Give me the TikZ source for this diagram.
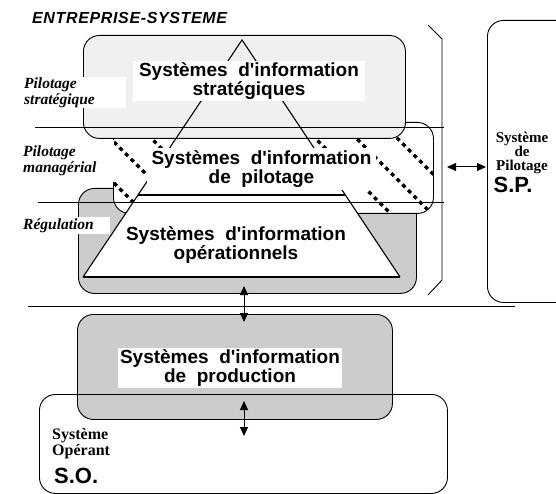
\documentclass[tikz,border=0pt]{standalone}
\usepackage{fontspec}
\setmainfont{Liberation Serif}
\setsansfont{Liberation Sans}
\usetikzlibrary{arrows.meta,calc}
\tikzset{box/.style={draw, rounded corners=16pt, line width=0.9pt, inner sep=0pt, anchor=north west}}
\newcommand\apos{\textquotesingle}

\begin{document}
\begin{tikzpicture}[x=1pt,y=-1pt,
    sitext/.style={font=\sffamily\bfseries\fontsize{19}{18.5}\selectfont, align=center, inner sep=0pt},
    leftlab/.style={font=\rmfamily\bfseries\itshape\fontsize{15.5}{16}\selectfont, align=left, fill=white, inner sep=0pt, inner xsep=4pt, anchor=north west},
    syslab/.style={font=\rmfamily\bfseries\fontsize{16}{16}\selectfont, anchor=base, inner sep=0pt},
    bigsys/.style={font=\sffamily\bfseries\fontsize{22}{22}\selectfont, anchor=base, inner sep=0pt},
    hatch/.style={line width=3.5pt, dash pattern=on 4pt off 4pt},
    levelline/.style={line width=0.9pt},
    pyr/.style={line width=1.1pt},
    dblarrow/.style={{Triangle[length=9pt,width=8pt]}-{Triangle[length=9pt,width=8pt]}, line width=1pt}]
    \clip (0,0) rectangle (556,494);
    \fill[white] (0,0) rectangle (556,494);

    \node[anchor=base west, inner sep=0pt, font=\sffamily\bfseries\itshape\fontsize{16}{18}\selectfont\addfontfeature{LetterSpace=4}] (title) at (32,24) {ENTREPRISE-SYSTEME};

    % systeme de pilotage
    \node[box, minimum width=110pt, minimum height=282pt] (sp) at (487,20) {};
    \node[syslab, font=\rmfamily\bfseries\fontsize{15}{15}\selectfont] (sp1) at (522,143) {Système};
    \node[syslab, font=\rmfamily\bfseries\fontsize{15}{15}\selectfont] (sp2) at (522,157) {de};
    \node[syslab, font=\rmfamily\bfseries\fontsize{15}{15}\selectfont] (sp3) at (522,171) {Pilotage};
    \node[bigsys] (sp4) at (513,193) {S.P.};
    \draw[line width=0.9pt] (428,25) -- (442,39) -- (442,280) -- (428,295);
    \coordinate (brk) at (447,167);
    \coordinate (spin) at (486,167);
    \draw[dblarrow] (brk) -- (spin);

    % les trois niveaux
    \node[box, fill=gray!40, minimum width=338pt, minimum height=105pt] (regul) at (78,188) {};
    \node[box, fill=white, minimum width=320pt, minimum height=91pt] (pilot) at (113,122) {};
    \begin{scope}
        \clip[rounded corners=16pt] (113,122) rectangle (433,213);
        \foreach \c in {69,28,...,-259}
            \draw[hatch] (80,80) ++(0,\c) -- ++(400,400);
    \end{scope}
    \coordinate (apex) at (242,40);
    \coordinate (bl) at (83,277);
    \coordinate (br) at (400,277);
    \fill[white] (apex) -- (bl) -- (br) -- cycle;
    \node[box, fill=gray!12, minimum width=322pt, minimum height=103pt] (strat) at (83,35) {};
    \draw[pyr] (bl) -- (apex) -- (br);
    \draw[line width=2pt] (bl) -- (br);
    \draw[pyr] ($(apex)!0.654!(bl)$) -- ($(apex)!0.654!(br)$);

    \node[sitext, fill=white, minimum width=232pt, minimum height=40pt] (stratlab) at (249,81) {Systèmes~~d\apos information\\stratégiques};
    \node[sitext, fill=white, minimum width=229pt, minimum height=42pt] (pilotlab) at (261.5,169) {Systèmes~~d\apos information\\de~~pilotage};
    \node[sitext] (operlab) at (236,245) {Systèmes~~d\apos information\\opérationnels};

    \node[leftlab, text width=98pt, minimum height=31pt] (lstrat) at (20,77) {Pilotage\\stratégique};
    \node[leftlab, text width=87pt, minimum height=42pt] (lmanag) at (19,140) {Pilotage\\managérial};
    \node[leftlab, text width=83pt, minimum height=17pt] (lregul) at (19,217) {Régulation};

    \draw[levelline] (35,127) -- (444,127);
    \draw[levelline] (38,202) -- (444,202);
    \draw[levelline] (28,306) -- (515,306);

    % systeme operant
    \node[box, fill=gray!40, minimum width=315pt, minimum height=105pt] (prod) at (77,314) {};
    \node[sitext, fill=white, minimum width=224pt, minimum height=40pt] (prodlab) at (230,368) {Systèmes~~d\apos information\\de~~production};
    \node[box, minimum width=408pt, minimum height=99pt] (so) at (39,394) {};
    \node[syslab, anchor=base west] (so1) at (52,439) {Système};
    \node[syslab, anchor=base west] (so2) at (52,455) {Opérant};
    \node[bigsys, anchor=base west] (so3) at (54,483) {S.O.};

    \coordinate (regbot) at (244,286);
    \coordinate (prodtop) at (244,322);
    \coordinate (prodbot) at (244,401);
    \coordinate (sotop) at (244,436);
    \draw[dblarrow] (regbot) -- (prodtop);
    \draw[dblarrow] (prodbot) -- (sotop);
\end{tikzpicture}
\end{document}
